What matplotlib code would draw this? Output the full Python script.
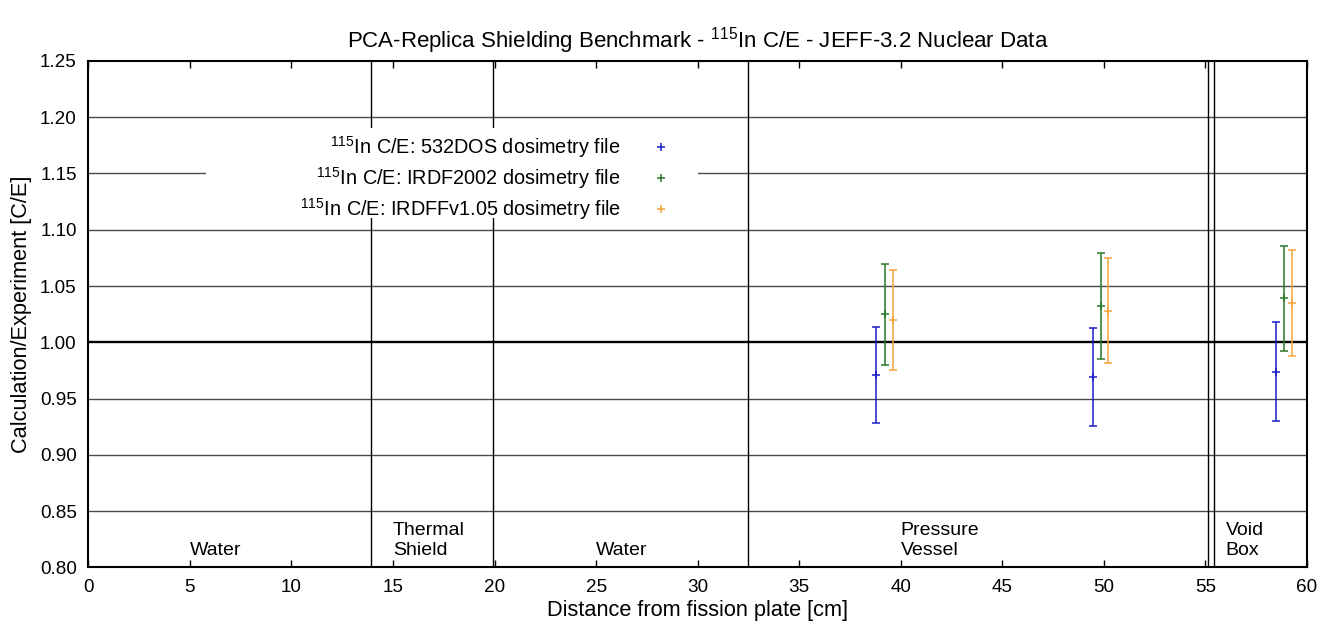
import matplotlib
matplotlib.use("Agg")
import matplotlib.pyplot as plt
from matplotlib.lines import Line2D
from matplotlib.patches import Rectangle

plt.rcParams['font.family'] = ['Liberation Sans', 'DejaVu Sans']
plt.rcParams['mathtext.fontset'] = 'custom'
plt.rcParams['mathtext.rm'] = 'Liberation Sans'
plt.rcParams['mathtext.it'] = 'Liberation Sans'
plt.rcParams['mathtext.bf'] = 'Liberation Sans'

#-- data
x_532dos = [38.8, 49.45, 58.45]
ce_532dos = [0.971, 0.969, 0.974]
err_532dos = [0.0425, 0.0437, 0.0444]

x_irdf2002 = [39.2, 49.85, 58.85]
ce_irdf2002 = [1.025, 1.032, 1.039]
err_irdf2002 = [0.045, 0.047, 0.047]

x_irdffv105 = [39.6, 50.2, 59.25]
ce_irdffv105 = [1.020, 1.028, 1.035]
err_irdffv105 = [0.0446, 0.0465, 0.047]

series_labels = [r'$^{115}$In C/E: 532DOS dosimetry file',
                 r'$^{115}$In C/E: IRDF2002 dosimetry file',
                 r'$^{115}$In C/E: IRDFFv1.05 dosimetry file']
series_colors = ['#1c1cc8', '#2a782a', '#f2a43a']

#-- geometry boundaries and region names
boundaries = [13.9, 19.9, 32.5, 55.1, 55.4]
region_x = [5.0, 15.0, 25.0, 40.0, 56.0]
region_names = ['Water', 'Thermal\nShield', 'Water', 'Pressure\nVessel', 'Void\nBox']

y_ticks = [0.80, 0.85, 0.90, 0.95, 1.00, 1.05, 1.10, 1.15, 1.20, 1.25]
x_ticks = list(range(0, 61, 5))

fig = plt.figure(figsize=(13.24, 6.21), dpi=100)
ax = fig.add_axes([0.0667, 0.0865, 0.9205, 0.8153])

ax.set_xlim(0, 60)
ax.set_ylim(0.80, 1.25)
ax.set_xticks(x_ticks)
ax.set_yticks(y_ticks)
ax.set_yticklabels(['%.2f' % v for v in y_ticks])
ax.tick_params(direction='in', length=5, width=1, labelsize=13.6,
               top=True, right=True, pad=8.5)
ax.tick_params(axis='y', length=0, pad=8.4)

for sp in ax.spines.values():
    sp.set_linewidth(1.5)

#-- horizontal grid
for yv in y_ticks[1:-1]:
    if abs(yv - 1.0) < 1e-9:
        ax.axhline(yv, color='black', lw=1.7, zorder=1)
    else:
        ax.axhline(yv, color='#4a4a4a', lw=1.0, zorder=1)

#-- region boundaries
for xb in boundaries:
    ax.axvline(xb, color='black', lw=1.0, zorder=1)

for xr, name in zip(region_x, region_names):
    ax.text(xr, 0.8076, name, ha='left', va='bottom', fontsize=14,
            linespacing=1.22, zorder=3)

#-- key area masks grid lines
ax.add_patch(Rectangle((5.77, 1.11), 24.23, 0.08, facecolor='white',
                       edgecolor='none', zorder=2))

data = [(x_532dos, ce_532dos, err_532dos),
        (x_irdf2002, ce_irdf2002, err_irdf2002),
        (x_irdffv105, ce_irdffv105, err_irdffv105)]
handles = []
for (xs, ys, es), col, lab in zip(data, series_colors, series_labels):
    ax.errorbar(xs, ys, yerr=es, fmt='+', color=col, ecolor=col,
                elinewidth=1.1, capsize=2.7, capthick=1.1, markersize=5.5,
                markeredgewidth=1.1, zorder=4)
    handles.append(Line2D([], [], marker='+', ls='none', color=col,
                          markersize=5.5, markeredgewidth=1.1, label=lab))

leg = ax.legend(handles=handles, loc='upper right', frameon=False,
                markerfirst=False, bbox_to_anchor=(29.18, 1.185),
                bbox_transform=ax.transData, borderpad=0, borderaxespad=0,
                handlelength=2.0, handletextpad=1.04, labelspacing=0.25,
                fontsize=14.3)
leg.set_zorder(5)

xc = (88.3 + 1307) / 2 / 1324.
fig.text(xc, 1 - 47 / 621.,
         r'PCA-Replica Shielding Benchmark - $^{115}$In C/E - JEFF-3.2 Nuclear Data',
         ha='center', va='baseline', fontsize=16)
fig.text(xc, 1 - 616 / 621., 'Distance from fission plate [cm]',
         ha='center', va='baseline', fontsize=15.7)
fig.text(22 / 1324., 1 - 314 / 621., 'Calculation/Experiment [C/E]',
         ha='center', va='center', rotation=90, fontsize=15.7)

fig.savefig('out.png', dpi=100)
